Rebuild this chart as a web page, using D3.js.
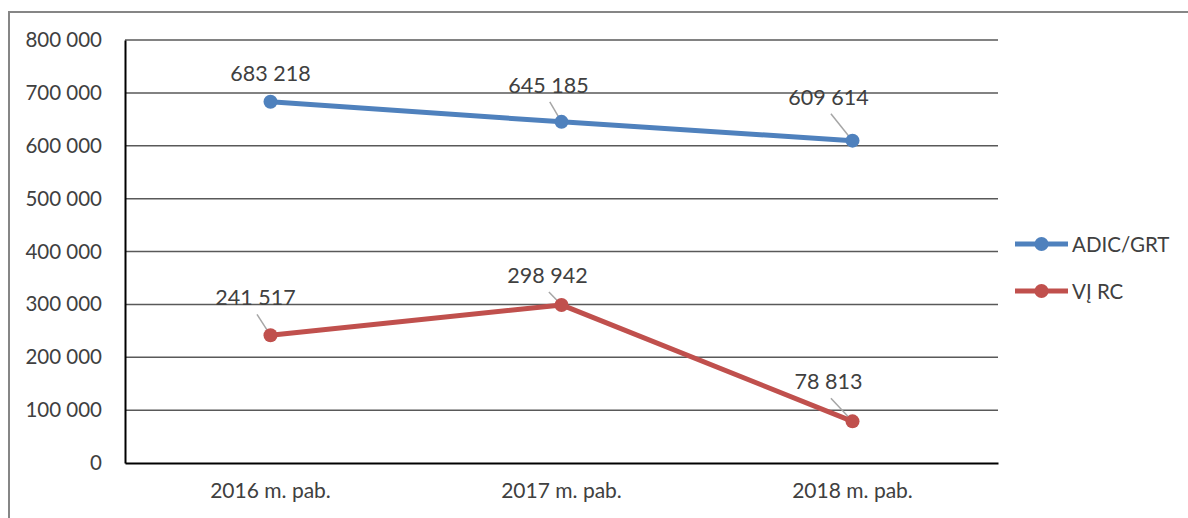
<!DOCTYPE html>
<html>
<head>
<meta charset="utf-8">
<script src="https://cdn.jsdelivr.net/npm/d3@7"></script>
<style>
  body { margin: 0; background: #fff; }
  text { font-family: Lato, "Open Sans", sans-serif; fill: #404040; }
</style>
</head>
<body>
<div id="chart"></div>
<script>
var years = ['2016 m. pab.', '2017 m. pab.', '2018 m. pab.'];
var seriesNames = ['ADIC/GRT', 'VĮ RC'];
var adicValues = [683218, 645185, 609614];
var vjrcValues = [241517, 298942, 78813];
var yTicks = [0, 100000, 200000, 300000, 400000, 500000, 600000, 700000, 800000];
var colors = ['#4f81bd', '#c0504d'];

// label nudges in px, per point [dx, dy] from the marker
var labelShift = [
  [[0, -21], [-13, -29], [-24, -36]],
  [[-15, -30], [-14, -22], [-24, -32]]
];

var W = 1188, H = 518;
var m = {left: 125, right: 190, top: 40, bottom: 55};

var svg = d3.select('#chart').append('svg')
  .attr('width', W)
  .attr('height', H);

// outer frame
svg.append('rect')
  .attr('x', 9).attr('y', 12)
  .attr('width', W + 20).attr('height', H + 20)
  .attr('fill', 'none')
  .attr('stroke', '#868686')
  .attr('stroke-width', 2);

var x = d3.scaleBand().domain(years).range([m.left, W - m.right]);
var y = d3.scaleLinear().domain([0, 800000]).range([H - m.bottom, m.top]);

var fmt = function(v) { return d3.format(',')(v).replace(/,/g, ' '); };

// gridlines
svg.append('g').selectAll('line')
  .data(yTicks.filter(function(d) { return d > 0; }))
  .enter().append('line')
  .attr('x1', m.left).attr('x2', W - m.right)
  .attr('y1', function(d) { return y(d); })
  .attr('y2', function(d) { return y(d); })
  .attr('stroke', '#595959')
  .attr('stroke-width', 1.5);

// y axis
var yAxis = svg.append('g')
  .attr('transform', 'translate(' + m.left + ',0)')
  .call(d3.axisLeft(y).tickValues(yTicks).tickFormat(fmt).tickSize(0).tickPadding(23));
yAxis.select('.domain').attr('stroke', '#000').attr('stroke-width', 2);
yAxis.selectAll('text').style('font-size', '20.5px').attr('fill', '#595959')
  .attr('font-family', 'Lato, sans-serif');

// x axis
var xAxis = svg.append('g')
  .attr('transform', 'translate(0,' + (H - m.bottom) + ')')
  .call(d3.axisBottom(x).tickSize(0).tickPadding(20));
xAxis.select('.domain').attr('stroke', '#000').attr('stroke-width', 2);
xAxis.selectAll('text').style('font-size', '21px').attr('fill', '#595959')
  .attr('font-family', 'Lato, sans-serif');

var allSeries = [adicValues, vjrcValues];
var line = d3.line()
  .x(function(d, i) { return x(years[i]) + x.bandwidth() / 2; })
  .y(function(d) { return y(d); });

allSeries.forEach(function(vals, s) {
  var g = svg.append('g');
  g.append('path')
    .datum(vals)
    .attr('d', line)
    .attr('fill', 'none')
    .attr('stroke', colors[s])
    .attr('stroke-width', 5)
    .attr('stroke-linejoin', 'round');

  // leader lines for labels that sit away from the point
  vals.forEach(function(v, i) {
    var cx = x(years[i]) + x.bandwidth() / 2, cy = y(v);
    var sh = labelShift[s][i];
    if (sh[0] !== 0) {
      g.append('line')
        .attr('x1', cx).attr('y1', cy)
        .attr('x2', cx + sh[0] * 0.9).attr('y2', cy + sh[1] + 9)
        .attr('stroke', '#a6a6a6').attr('stroke-width', 1.5);
    }
  });

  g.selectAll('circle')
    .data(vals)
    .enter().append('circle')
    .attr('cx', function(d, i) { return x(years[i]) + x.bandwidth() / 2; })
    .attr('cy', function(d) { return y(d); })
    .attr('r', 7)
    .attr('fill', colors[s]);

  g.selectAll('text.lbl')
    .data(vals)
    .enter().append('text')
    .attr('class', 'lbl')
    .attr('x', function(d, i) { return x(years[i]) + x.bandwidth() / 2 + labelShift[s][i][0]; })
    .attr('y', function(d, i) { return y(d) + labelShift[s][i][1]; })
    .attr('text-anchor', 'middle')
    .style('font-size', '21.5px')
    .text(fmt);
});

// legend
var leg = svg.append('g').attr('transform', 'translate(1015,244)');
seriesNames.forEach(function(name, i) {
  var row = leg.append('g').attr('transform', 'translate(0,' + (i * 47) + ')');
  row.append('line').attr('x1', 0).attr('x2', 53).attr('y1', 0).attr('y2', 0)
    .attr('stroke', colors[i]).attr('stroke-width', 5);
  row.append('circle').attr('cx', 26.5).attr('cy', 0).attr('r', 7).attr('fill', colors[i]);
  row.append('text').attr('x', 57).attr('y', 7.5)
    .style('font-size', '20.5px').text(name);
});
</script>
</body>
</html>
